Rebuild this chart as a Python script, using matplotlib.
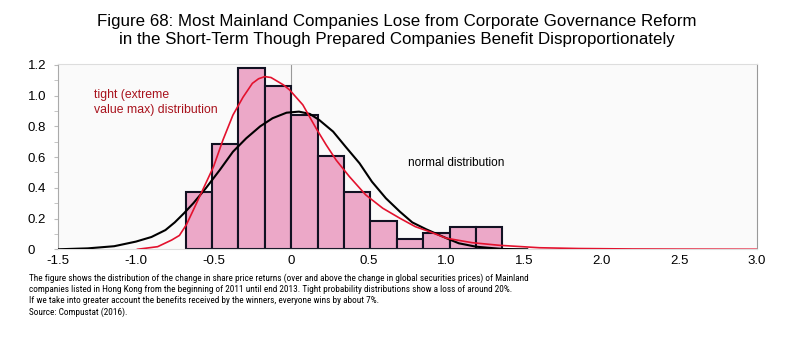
import matplotlib
matplotlib.use("Agg")
import matplotlib.pyplot as plt

# histogram
bin_edges = [-0.68, -0.51, -0.34, -0.17, 0.0, 0.17, 0.34, 0.51, 0.68, 0.85, 1.02, 1.19, 1.36]
bin_heights = [0.375, 0.684, 1.178, 1.065, 0.874, 0.607, 0.375, 0.186, 0.07, 0.108, 0.147, 0.147]

# fitted normal curve
normal_x = [-1.5, -1.31, -1.14, -1.0, -0.9, -0.81, -0.75, -0.69, -0.63, -0.55, -0.46, -0.375,
            -0.29, -0.2, -0.12, -0.03, 0.05, 0.12, 0.18, 0.27, 0.35, 0.44, 0.52, 0.61, 0.7,
            0.78, 0.87, 0.91, 1.0, 1.08, 1.19, 1.36, 1.52]
normal_y = [0.0, 0.006, 0.02, 0.05, 0.08, 0.125, 0.175, 0.235, 0.30, 0.397, 0.516, 0.635,
            0.722, 0.80, 0.853, 0.889, 0.896, 0.881, 0.842, 0.766, 0.668, 0.56, 0.44, 0.332, 0.245,
            0.175, 0.13, 0.112, 0.072, 0.039, 0.017, 0.002, 0.0]

# tight (extreme value max) curve
tight_x = [-0.99, -0.86, -0.77, -0.72, -0.675, -0.63, -0.57, -0.5, -0.44, -0.375, -0.31, -0.25,
           -0.21, -0.17, -0.13, -0.1, -0.05, -0.01, 0.075, 0.16, 0.225, 0.29, 0.375, 0.48, 0.59,
           0.7, 0.8, 0.89, 1.0, 1.165, 1.34, 1.6, 1.85, 2.2, 2.5, 3.0]
tight_y = [0.0, 0.017, 0.06, 0.09, 0.16, 0.256, 0.386, 0.538, 0.71, 0.874, 0.99, 1.08,
           1.11, 1.124, 1.118, 1.10, 1.07, 1.037, 0.94, 0.788, 0.68, 0.58, 0.473, 0.354, 0.267,
           0.202, 0.147, 0.115, 0.072, 0.043, 0.026, 0.01, 0.005, 0.002, 0.001, 0.0]

x_ticks = [-1.5, -1.0, -0.5, 0, 0.5, 1.0, 1.5, 2.0, 2.5, 3.0]
x_tick_labels = ["-1.5", "-1.0", "-0.5", "0", "0.5", "1.0", "1.5", "2.0", "2.5", "3.0"]
y_ticks = [0, 0.2, 0.4, 0.6, 0.8, 1.0, 1.2]
y_tick_labels = ["0", "0.2", "0.4", "0.6", "0.8", "1.0", "1.2"]

title = ("Figure 68: Most Mainland Companies Lose from Corporate Governance Reform\n"
         "in the Short-Term Though Prepared Companies Benefit Disproportionately")
caption = ("The figure shows the distribution of the change in share price returns (over and above the change in global securities prices) of Mainland\n"
           "companies listed in Hong Kong from the beginning of 2011 until end 2013. Tight probability distributions show a loss of around 20%.\n"
           "If we take into greater account the benefits received by the winners, everyone wins by about 7%.\n"
           "Source: Compustat (2016).")

plt.rcParams["font.family"] = ["Liberation Sans", "DejaVu Sans"]

fig = plt.figure(figsize=(7.94, 3.40), dpi=100)
ax = fig.add_axes([0.0734, 0.2668, 0.88, 0.545])
ax.set_facecolor("#fafafa")

widths = [bin_edges[i + 1] - bin_edges[i] for i in range(len(bin_heights))]
ax.bar(bin_edges[:-1], bin_heights, width=widths, align="edge",
       color="#eca8c8", edgecolor="#111122", linewidth=1.5, zorder=2)
ax.axvline(0, color="#999999", linewidth=0.8, zorder=1)
ax.plot(normal_x, normal_y, color="black", linewidth=1.5, zorder=3)
ax.plot(tight_x, tight_y, color="#e3122e", linewidth=1.2, zorder=4)

ax.text(-1.27, 0.955, "tight (extreme\nvalue max) distribution", color="#a8121c",
        fontsize=8.8, va="center", ha="left", linespacing=1.25)
ax.text(0.75, 0.56, "normal distribution", color="black", fontsize=8.5, va="center", ha="left")

ax.set_xlim(-1.5, 3.0)
ax.set_ylim(0, 1.206)
ax.set_xticks(x_ticks)
ax.set_xticklabels(x_tick_labels, fontsize=9.5)
ax.set_yticks(y_ticks)
ax.set_yticklabels(y_tick_labels, fontsize=9.5, ha="left")
ax.set_yticks([i / 10 for i in range(13)], minor=True)
ax.tick_params(axis="x", length=0, pad=4)
ax.tick_params(axis="y", which="both", length=3, color="#bbbbbb", pad=19)

for side, col in [("left", "#aaaaaa"), ("top", "#dddddd"), ("right", "#999999"), ("bottom", "#dddddd")]:
    ax.spines[side].set_color(col)
    ax.spines[side].set_linewidth(0.8)

fig.text(0.5, 0.911, title, ha="center", va="center", fontsize=12.2, linespacing=1.25)
fig.text(0.036, 0.197, caption, ha="left", va="top", fontsize=6.7,
         family=["Roboto Condensed", "DejaVu Sans"], linespacing=1.3)

fig.savefig("out.png", dpi=100)
